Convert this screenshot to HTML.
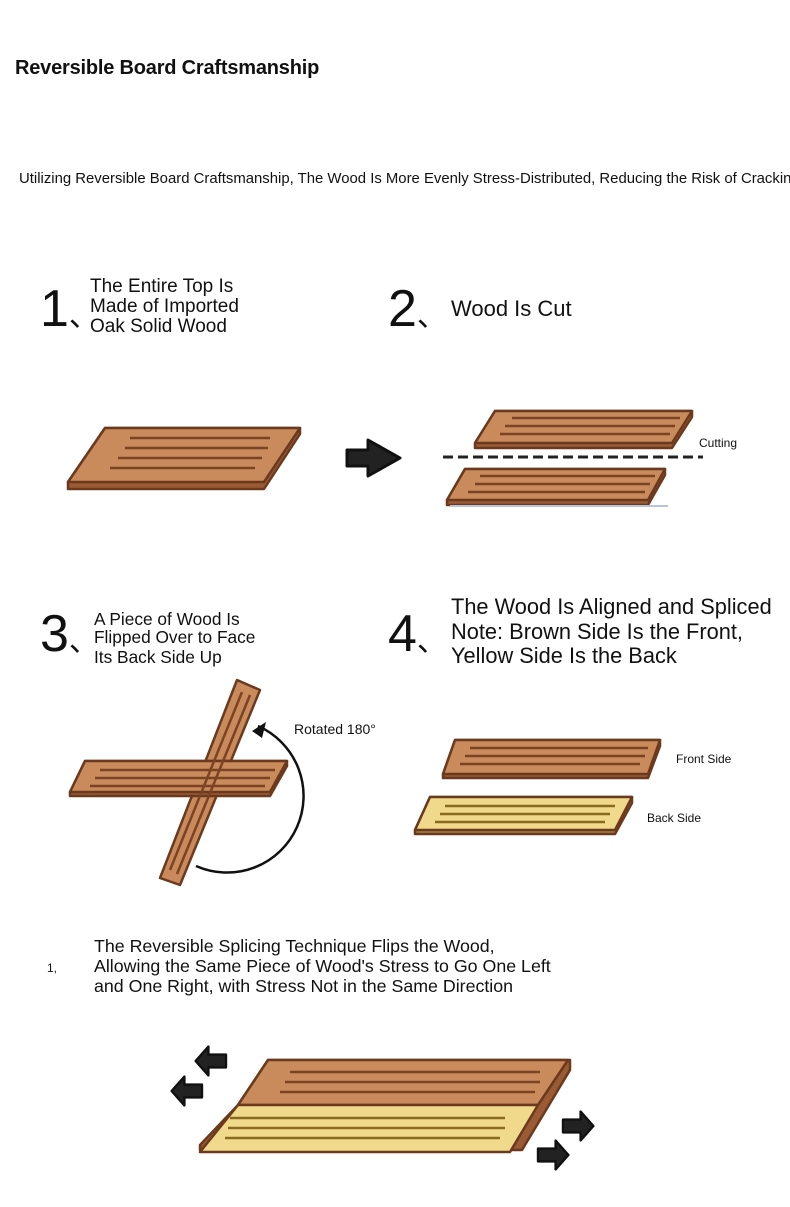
<!DOCTYPE html><html><head><style>
body{margin:0;width:790px;height:1207px;background:#fff;position:relative;overflow:hidden;font-family:"Liberation Sans",Arial,sans-serif;color:#111}
.t{position:absolute;white-space:nowrap}
.n{position:absolute;font-size:52px;font-family:"Liberation Sans",sans-serif;line-height:1}
</style></head><body>
<div class="t" style="left:15px;top:57px;font-size:20px;font-weight:bold;letter-spacing:-0.2px">Reversible Board Craftsmanship</div>
<div class="t" style="left:19px;top:171px;font-size:14.9px">Utilizing Reversible Board Craftsmanship, The Wood Is More Evenly Stress-Distributed, Reducing the Risk of Cracking</div>
<div class="n" style="left:40px;top:283px">1<span style="font-size:30px">、</span></div>
<div class="t" style="left:90px;top:277px;font-size:19px;line-height:20px">The Entire Top Is<br>Made of Imported<br>Oak Solid Wood</div>
<div class="n" style="left:388px;top:283px">2<span style="font-size:30px">、</span></div>
<div class="t" style="left:451px;top:296px;font-size:22px">Wood Is Cut</div>
<div class="t" style="left:699px;top:436px;font-size:12px">Cutting</div>
<div class="n" style="left:40px;top:608px">3<span style="font-size:30px">、</span></div>
<div class="t" style="left:94px;top:610px;font-size:17.3px;line-height:18px">A Piece of Wood Is<br>Flipped Over to Face<br><span style="line-height:22px">Its Back Side Up</span></div>
<div class="n" style="left:388px;top:608px">4<span style="font-size:30px">、</span></div>
<div class="t" style="left:451px;top:595px;font-size:21.8px;line-height:24.5px">The Wood Is Aligned and Spliced<br>Note: Brown Side Is the Front,<br>Yellow Side Is the Back</div>
<div class="t" style="left:294px;top:721px;font-size:14px">Rotated 180°</div>
<div class="t" style="left:676px;top:752px;font-size:12px">Front Side</div>
<div class="t" style="left:647px;top:811px;font-size:12px">Back Side</div>
<div class="t" style="left:47px;top:961px;font-size:12px">1,</div>
<div class="t" style="left:94px;top:936px;font-size:17.8px;line-height:20px">The Reversible Splicing Technique Flips the Wood,<br>Allowing the Same Piece of Wood's Stress to Go One Left<br>and One Right, with Stress Not in the Same Direction</div>
<svg width="790" height="1207" style="position:absolute;left:0;top:0">
<defs>
<g id="ar"><path d="M0,-8 H22 V-18 L38,0 L22,18 V8 H0 Z" fill="#222" stroke="#111" stroke-linejoin="round" stroke-width="3"/></g>
</defs>
<g stroke="#6b3a1e" stroke-width="2.5" stroke-linejoin="round">
<path d="M105,428 H300 L300,434 L264,489 H68 L68,482 Z" fill="#9a5a33"/>
<path d="M105,428 H300 L264,482 H68 Z" fill="#c98a5c"/>
<path d="M495,411 H692 V417 L672,448 H475 V443 Z" fill="#9a5a33"/>
<path d="M495,411 H692 L672,443 H475 Z" fill="#c98a5c"/>
<path d="M465,469 H665 V475 L648,505 H447 V500 Z" fill="#9a5a33"/>
<path d="M465,469 H665 L648,500 H447 Z" fill="#c98a5c"/>
<path d="M237,680 L260,690 L180,885 L160,878 Z" fill="#c98a5c"/>
<path d="M85,761 H287 V766 L270,796 H70 V792 Z" fill="#9a5a33"/>
<path d="M85,761 H287 L270,792 H70 Z" fill="#c98a5c"/>
<path d="M455,740 H660 V746 L648,778 H443 V774 Z" fill="#9a5a33"/>
<path d="M455,740 H660 L648,774 H443 Z" fill="#c98a5c"/>
<path d="M430,797 H632 V803 L615,834 H415 V830 Z" fill="#a08040"/>
<path d="M430,797 H632 L615,830 H415 Z" fill="#f0d98a"/>
<path d="M268,1060 H570 V1070 L522,1150 H200 V1145 L238,1105 Z" fill="#9a5a33"/>
<path d="M268,1060 H568 L538,1105 H238 Z" fill="#c98a5c"/>
<path d="M238,1105 H538 L510,1152 H200 Z" fill="#f0d98a"/>
</g>
<g stroke="#7a4424" stroke-width="2.5">
<path d="M130,438 H270 M125,448 H268 M118,458 H262 M110,468 H255"/>
<path d="M512,418 H680 M505,426 H675 M500,434 H670"/>
<path d="M480,476 H655 M475,484 H650 M468,492 H645"/>
<path d="M100,770 H275 M95,778 H270 M90,786 H265"/>
<path d="M470,748 H648 M465,756 H645 M460,764 H640"/>
<path d="M290,1072 H540 M285,1082 H540 M280,1092 H535" />
<path d="M242,692 L170,870 M250,695 L177,874"/>
</g>
<g stroke="#8a6a20" stroke-width="2.5">
<path d="M445,806 H615 M440,814 H610 M435,822 H605"/>
<path d="M230,1118 H505 M228,1128 H505 M225,1138 H500"/>
</g>
<line x1="443" y1="457" x2="703" y2="457" stroke="#222" stroke-width="3" stroke-dasharray="10,5"/>
<line x1="450" y1="506" x2="668" y2="506" stroke="#b8c4dc" stroke-width="2"/>
<path d="M258,726 A72,72 0 1 1 196,866" fill="none" stroke="#111" stroke-width="2.5"/>
<path d="M252,731 L266,722 L262,738 Z" fill="#111"/>
<path d="M347,450 H368 V440 L400,458 L368,476 V466 H347 Z" fill="#222" stroke="#111" stroke-width="3" stroke-linejoin="round"/>
<use href="#ar" transform="translate(226,1061) scale(-0.8,0.8)"/>
<use href="#ar" transform="translate(202,1091) scale(-0.8,0.8)"/>
<use href="#ar" transform="translate(563,1126) scale(0.8)"/>
<use href="#ar" transform="translate(538,1155) scale(0.8)"/>
</svg>
</body></html>
